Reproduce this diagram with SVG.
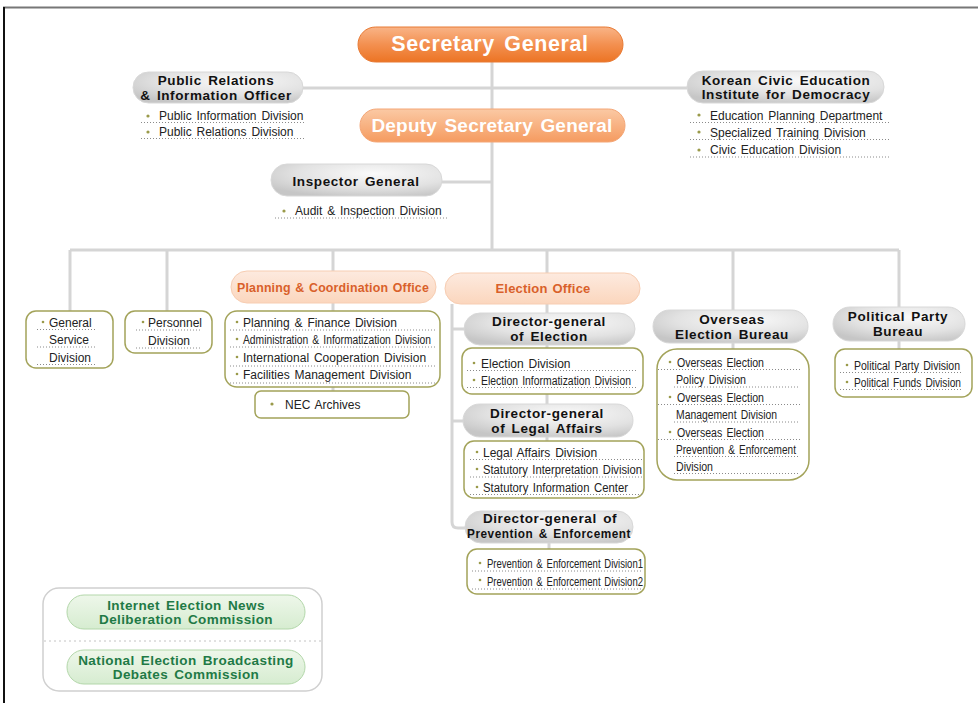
<svg xmlns="http://www.w3.org/2000/svg" width="978" height="703" viewBox="0 0 978 703">
  <defs>
    <linearGradient id="gOrange" x1="0" y1="0" x2="0" y2="1">
      <stop offset="0" stop-color="#f9b487"/>
      <stop offset="0.5" stop-color="#f39050"/>
      <stop offset="1" stop-color="#ec7424"/>
    </linearGradient>
    <linearGradient id="gOrangeLight" x1="0" y1="0" x2="0" y2="1">
      <stop offset="0" stop-color="#fbc9a4"/>
      <stop offset="1" stop-color="#f59b60"/>
    </linearGradient>
    <linearGradient id="gPeach" x1="0" y1="0" x2="0" y2="1">
      <stop offset="0" stop-color="#fdeadf"/>
      <stop offset="1" stop-color="#fbd6bd"/>
    </linearGradient>
    <radialGradient id="gGray" cx="0.6" cy="0.3" r="0.75">
      <stop offset="0" stop-color="#fafafa"/>
      <stop offset="0.6" stop-color="#e2e2e2"/>
      <stop offset="1" stop-color="#c6c6c6"/>
    </radialGradient>
    <linearGradient id="gGreen" x1="0" y1="0" x2="0" y2="1">
      <stop offset="0" stop-color="#eef7ea"/>
      <stop offset="1" stop-color="#d6ecd0"/>
    </linearGradient>
  </defs>
  <style>
    .conn { stroke: #d5d5d5; stroke-width: 3; fill: none; }
    .pillGray { fill: url(#gGray); stroke: #d8d8d8; stroke-width: 1; }
    .pillPeach { fill: url(#gPeach); stroke: #f7cdb2; stroke-width: 1; }
    .pillGreen { fill: url(#gGreen); stroke: #b3d7aa; stroke-width: 1; }
    .box { fill: #ffffff; stroke: #a3a35a; stroke-width: 1.5; }
    .head { font-family: "Liberation Sans", Arial, sans-serif; font-weight: bold; font-size: 13.5px; fill: #111; text-anchor: middle; letter-spacing: 0.6px; word-spacing: 2px; }
    .orangeHead { font-family: "Liberation Sans", Arial, sans-serif; font-weight: bold; font-size: 13px; fill: #d9602a; text-anchor: middle; letter-spacing: 0.2px; word-spacing: 1px; }
    .greenHead { font-family: "Liberation Sans", Arial, sans-serif; font-weight: bold; font-size: 13.5px; fill: #1f7a46; text-anchor: middle; letter-spacing: 0.4px; word-spacing: 2px; }
    .item { font-family: "Liberation Sans", Arial, sans-serif; font-size: 12px; fill: #222; word-spacing: 1.5px; }
    .dot { fill: #9a9a4a; }
    .ul { stroke: #8a8a8a; stroke-width: 1; stroke-dasharray: 1 2; fill: none; }
  </style>

  <!-- page frame -->
  <line x1="3" y1="7.5" x2="978" y2="7.5" stroke="#777" stroke-width="2"/>
  <line x1="4" y1="7" x2="4" y2="703" stroke="#111" stroke-width="2"/>

  <!-- connectors -->
  <g id="connectors">
    <line class="conn" x1="492" y1="62" x2="492" y2="250"/>
    <line class="conn" x1="303" y1="88" x2="687" y2="88"/>
    <line class="conn" x1="442" y1="182" x2="492" y2="182"/>
    <line class="conn" x1="70" y1="250" x2="899" y2="250"/>
    <line class="conn" x1="70" y1="250" x2="70" y2="311"/>
    <line class="conn" x1="167" y1="250" x2="167" y2="311"/>
    <line class="conn" x1="333" y1="250" x2="333" y2="391"/>
    <line class="conn" x1="547" y1="250" x2="547" y2="349"/>
    <line class="conn" x1="547" y1="394" x2="547" y2="441"/>
    <line class="conn" x1="549" y1="543" x2="549" y2="549"/>
    <line class="conn" x1="733" y1="250" x2="733" y2="349"/>
    <line class="conn" x1="899" y1="250" x2="899" y2="349"/>
    <path class="conn" d="M452 304 V522 Q452 528 458 528 H466"/>
    <line class="conn" x1="452" y1="329" x2="465" y2="329"/>
    <line class="conn" x1="452" y1="421" x2="464" y2="421"/>
  </g>

  <!-- Secretary General -->
  <g id="secretary-general">
    <rect x="358" y="27" width="265" height="35" rx="17.5" fill="url(#gOrange)" stroke="#e87a34" stroke-width="1"/>
    <text x="490" y="51" font-family="Liberation Sans, Arial, sans-serif" font-weight="bold" font-size="21.5" fill="#ffffff" text-anchor="middle" letter-spacing="0.6" word-spacing="3">Secretary General</text>
  </g>

  <!-- Deputy Secretary General -->
  <g id="deputy-secretary-general">
    <rect x="360" y="109" width="265" height="33" rx="16.5" fill="url(#gOrangeLight)" stroke="#f4a676" stroke-width="1"/>
    <text x="492" y="132" font-family="Liberation Sans, Arial, sans-serif" font-weight="bold" font-size="19" fill="#ffffff" text-anchor="middle" letter-spacing="0.2" word-spacing="2">Deputy Secretary General</text>
  </g>

  <!-- Public Relations & Information Officer -->
  <g id="public-relations">
    <rect class="pillGray" x="133" y="72" width="170" height="31" rx="15.5"/>
    <text class="head" x="216" y="85">Public Relations</text>
    <text class="head" x="216" y="100">&amp; Information Officer</text>
    <circle class="dot" cx="148" cy="116" r="1.6"/>
    <text class="item" x="159" y="120">Public Information Division</text>
    <line class="ul" x1="141" y1="122.5" x2="306" y2="122.5"/>
    <circle class="dot" cx="148" cy="132" r="1.6"/>
    <text class="item" x="159" y="136">Public Relations Division</text>
    <line class="ul" x1="141" y1="138.5" x2="306" y2="138.5"/>
  </g>

  <!-- Korean Civic Education Institute for Democracy -->
  <g id="civic-education-institute">
    <rect class="pillGray" x="687" y="71" width="197" height="32" rx="16"/>
    <text class="head" x="786" y="84.5">Korean Civic Education</text>
    <text class="head" x="786" y="98.5">Institute for Democracy</text>
    <circle class="dot" cx="699" cy="115" r="1.6"/>
    <text class="item" x="710" y="120">Education Planning Department</text>
    <line class="ul" x1="690" y1="122.5" x2="891" y2="122.5"/>
    <circle class="dot" cx="699" cy="132" r="1.6"/>
    <text class="item" x="710" y="137">Specialized Training Division</text>
    <line class="ul" x1="690" y1="139.5" x2="891" y2="139.5"/>
    <circle class="dot" cx="699" cy="150" r="1.6"/>
    <text class="item" x="710" y="154">Civic Education Division</text>
    <line class="ul" x1="690" y1="157" x2="891" y2="157"/>
  </g>

  <!-- Inspector General -->
  <g id="inspector-general">
    <rect class="pillGray" x="271" y="164" width="171" height="32" rx="16"/>
    <text class="head" x="356" y="186">Inspector General</text>
    <circle class="dot" cx="284" cy="211" r="1.6"/>
    <text class="item" x="295" y="215">Audit &amp; Inspection Division</text>
    <line class="ul" x1="275" y1="218" x2="447" y2="218"/>
  </g>

  <!-- General Service Division -->
  <g id="general-service">
    <rect class="box" x="26" y="311" width="87" height="57" rx="10"/>
    <circle class="dot" cx="43" cy="322" r="1.3"/>
    <text class="item" x="49" y="327">General</text>
    <line class="ul" x1="37" y1="329.5" x2="95" y2="329.5"/>
    <text class="item" x="49" y="344">Service</text>
    <line class="ul" x1="37" y1="347" x2="95" y2="347"/>
    <text class="item" x="49" y="362">Division</text>
    <line class="ul" x1="37" y1="364.5" x2="95" y2="364.5"/>
  </g>

  <!-- Personnel Division -->
  <g id="personnel">
    <rect class="box" x="125" y="311" width="87" height="42" rx="10"/>
    <circle class="dot" cx="143" cy="322" r="1.3"/>
    <text class="item" x="148" y="327">Personnel</text>
    <line class="ul" x1="136" y1="330" x2="202" y2="330"/>
    <text class="item" x="148" y="345">Division</text>
    <line class="ul" x1="136" y1="348" x2="202" y2="348"/>
  </g>

  <!-- Planning & Coordination Office -->
  <g id="planning-coordination">
    <rect class="pillPeach" x="231" y="271" width="205" height="32" rx="16"/>
    <text class="orangeHead" x="333" y="292" textLength="192" lengthAdjust="spacingAndGlyphs">Planning &amp; Coordination Office</text>
    <rect class="box" x="225" y="311" width="215" height="76" rx="12"/>
    <circle class="dot" cx="237" cy="322" r="1.3"/>
    <text class="item" x="243" y="327">Planning &amp; Finance Division</text>
    <line class="ul" x1="230" y1="330" x2="436" y2="330"/>
    <circle class="dot" cx="237" cy="339" r="1.3"/>
    <text class="item" x="243" y="344" textLength="188" lengthAdjust="spacingAndGlyphs">Administration &amp; Informatization Division</text>
    <line class="ul" x1="230" y1="347" x2="436" y2="347"/>
    <circle class="dot" cx="237" cy="357" r="1.3"/>
    <text class="item" x="243" y="362">International Cooperation Division</text>
    <line class="ul" x1="230" y1="366" x2="436" y2="366"/>
    <circle class="dot" cx="237" cy="374" r="1.3"/>
    <text class="item" x="243" y="379">Facilities Management Division</text>
    <line class="ul" x1="230" y1="383" x2="436" y2="383"/>
  </g>

  <!-- NEC Archives -->
  <g id="nec-archives">
    <rect class="box" x="255" y="391" width="154" height="27" rx="6"/>
    <circle class="dot" cx="272" cy="404" r="1.6"/>
    <text class="item" x="285" y="409">NEC Archives</text>
  </g>

  <!-- Election Office -->
  <g id="election-office">
    <rect class="pillPeach" x="445" y="273" width="195" height="31" rx="15.5"/>
    <text class="orangeHead" x="543" y="293" font-size="13.5px" letter-spacing="0.8">Election Office</text>
  </g>

  <!-- Director-general of Election -->
  <g id="dg-election">
    <rect class="pillGray" x="464" y="313" width="171" height="32" rx="16"/>
    <text class="head" x="549" y="326">Director-general</text>
    <text class="head" x="549" y="341">of Election</text>
    <rect class="box" x="462" y="348" width="181" height="46" rx="10"/>
    <circle class="dot" cx="474" cy="363" r="1.3"/>
    <text class="item" x="481" y="368">Election Division</text>
    <line class="ul" x1="467" y1="370.5" x2="637" y2="370.5"/>
    <circle class="dot" cx="474" cy="380" r="1.3"/>
    <text class="item" x="481" y="385" textLength="150" lengthAdjust="spacingAndGlyphs">Election Informatization Division</text>
    <line class="ul" x1="467" y1="387.5" x2="637" y2="387.5"/>
  </g>

  <!-- Director-general of Legal Affairs -->
  <g id="dg-legal">
    <rect class="pillGray" x="463" y="404" width="170" height="33" rx="16.5"/>
    <text class="head" x="547" y="417.5">Director-general</text>
    <text class="head" x="547" y="432.5">of Legal Affairs</text>
    <rect class="box" x="464" y="441" width="180" height="57" rx="10"/>
    <circle class="dot" cx="477" cy="452" r="1.3"/>
    <text class="item" x="483" y="457">Legal Affairs Division</text>
    <line class="ul" x1="470" y1="459.5" x2="642" y2="459.5"/>
    <circle class="dot" cx="477" cy="469" r="1.3"/>
    <text class="item" x="483" y="474" textLength="159" lengthAdjust="spacingAndGlyphs">Statutory Interpretation Division</text>
    <line class="ul" x1="470" y1="477" x2="642" y2="477"/>
    <circle class="dot" cx="477" cy="487" r="1.3"/>
    <text class="item" x="483" y="492" textLength="145" lengthAdjust="spacingAndGlyphs">Statutory Information Center</text>
    <line class="ul" x1="470" y1="494.5" x2="642" y2="494.5"/>
  </g>

  <!-- Director-general of Prevention & Enforcement -->
  <g id="dg-prevention">
    <rect class="pillGray" x="465" y="511" width="168" height="32" rx="16"/>
    <text class="head" x="550" y="523">Director-general of</text>
    <text class="head" x="549" y="538" letter-spacing="0" word-spacing="0" textLength="164" lengthAdjust="spacingAndGlyphs">Prevention &amp; Enforcement</text>
    <rect class="box" x="467" y="549" width="178" height="45" rx="10"/>
    <circle class="dot" cx="480" cy="563" r="1.3"/>
    <text class="item" x="487" y="568" textLength="156" lengthAdjust="spacingAndGlyphs">Prevention &amp; Enforcement Division1</text>
    <line class="ul" x1="472" y1="571" x2="643" y2="571"/>
    <circle class="dot" cx="480" cy="580" r="1.3"/>
    <text class="item" x="487" y="586" textLength="156" lengthAdjust="spacingAndGlyphs">Prevention &amp; Enforcement Division2</text>
    <line class="ul" x1="472" y1="589" x2="643" y2="589"/>
  </g>

  <!-- Overseas Election Bureau -->
  <g id="overseas-election-bureau">
    <rect class="pillGray" x="653" y="310" width="155" height="33" rx="16.5"/>
    <text class="head" x="732" y="324">Overseas</text>
    <text class="head" x="732" y="339">Election Bureau</text>
    <rect class="box" x="657" y="349" width="152" height="131" rx="20"/>
    <circle class="dot" cx="670" cy="362" r="1.3"/>
    <text class="item" x="677" y="367" textLength="87" lengthAdjust="spacingAndGlyphs">Overseas Election</text>
    <line class="ul" x1="658" y1="369.5" x2="800" y2="369.5"/>
    <text class="item" x="676" y="384" textLength="70" lengthAdjust="spacingAndGlyphs">Policy Division</text>
    <line class="ul" x1="674" y1="387" x2="800" y2="387"/>
    <circle class="dot" cx="670" cy="397" r="1.3"/>
    <text class="item" x="677" y="402" textLength="87" lengthAdjust="spacingAndGlyphs">Overseas Election</text>
    <line class="ul" x1="658" y1="404.5" x2="800" y2="404.5"/>
    <text class="item" x="676" y="419" textLength="101" lengthAdjust="spacingAndGlyphs">Management Division</text>
    <line class="ul" x1="674" y1="422" x2="800" y2="422"/>
    <circle class="dot" cx="670" cy="432" r="1.3"/>
    <text class="item" x="677" y="437" textLength="87" lengthAdjust="spacingAndGlyphs">Overseas Election</text>
    <line class="ul" x1="658" y1="439.5" x2="800" y2="439.5"/>
    <text class="item" x="676" y="454" textLength="120" lengthAdjust="spacingAndGlyphs">Prevention &amp; Enforcement</text>
    <line class="ul" x1="674" y1="456.5" x2="800" y2="456.5"/>
    <text class="item" x="676" y="471" textLength="37" lengthAdjust="spacingAndGlyphs">Division</text>
    <line class="ul" x1="674" y1="473.5" x2="800" y2="473.5"/>
  </g>

  <!-- Political Party Bureau -->
  <g id="political-party-bureau">
    <rect class="pillGray" x="833" y="307" width="132" height="34" rx="17"/>
    <text class="head" x="898" y="321">Political Party</text>
    <text class="head" x="898" y="336">Bureau</text>
    <rect class="box" x="835" y="349" width="137" height="48" rx="10"/>
    <circle class="dot" cx="847" cy="365" r="1.3"/>
    <text class="item" x="854" y="370" textLength="106" lengthAdjust="spacingAndGlyphs">Political Party Division</text>
    <line class="ul" x1="840" y1="372.5" x2="963" y2="372.5"/>
    <circle class="dot" cx="847" cy="382" r="1.3"/>
    <text class="item" x="854" y="387" textLength="107" lengthAdjust="spacingAndGlyphs">Political Funds Division</text>
    <line class="ul" x1="840" y1="389.5" x2="963" y2="389.5"/>
  </g>

  <!-- Commissions -->
  <g id="commissions">
    <rect x="43" y="588" width="279" height="103" rx="16" fill="#ffffff" stroke="#d0d0d0" stroke-width="1.5"/>
    <line x1="44" y1="641" x2="321" y2="641" stroke="#c4c4c4" stroke-width="1" stroke-dasharray="2 3"/>
  </g>
  <g id="internet-election-news">
    <rect class="pillGreen" x="67" y="595" width="238" height="34" rx="17"/>
    <text class="greenHead" x="186" y="610">Internet Election News</text>
    <text class="greenHead" x="186" y="624">Deliberation Commission</text>
  </g>
  <g id="election-broadcasting-debates">
    <rect class="pillGreen" x="67" y="650" width="238" height="34" rx="17"/>
    <text class="greenHead" x="186" y="665">National Election Broadcasting</text>
    <text class="greenHead" x="186" y="679">Debates Commission</text>
  </g>
</svg>
